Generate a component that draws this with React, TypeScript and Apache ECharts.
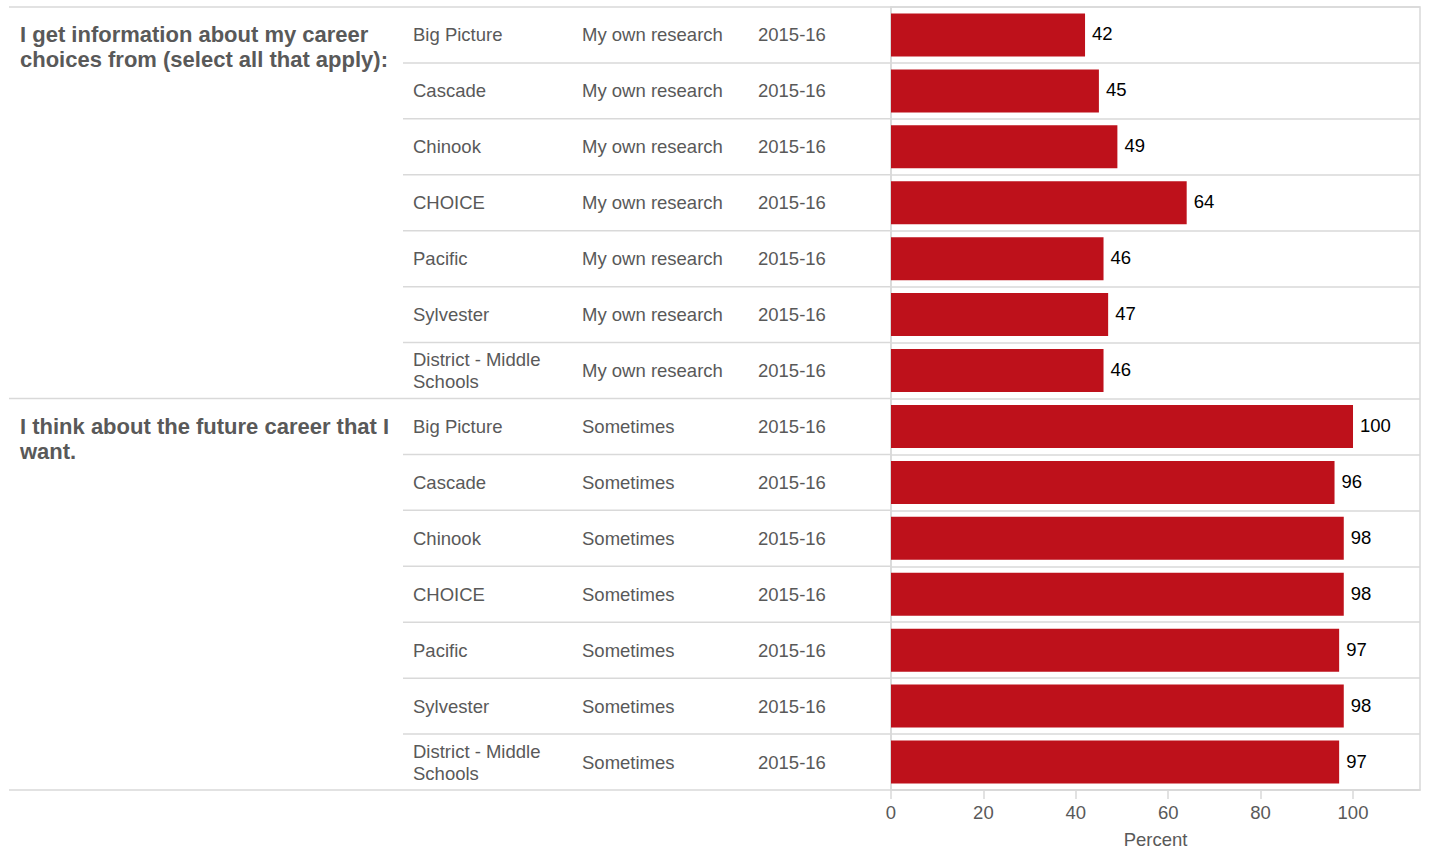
import React, { useEffect, useRef } from "react";
import * as echarts from "echarts";

const questions = [
  "I get information about my career\nchoices from (select all that apply):",
  "I think about the future career that I\nwant.",
];
const schools = ["Big Picture", "Cascade", "Chinook", "CHOICE", "Pacific", "Sylvester", "District - Middle Schools"];
const responses = ["My own research", "Sometimes"];
const year = "2015-16";
const researchValues = [42, 45, 49, 64, 46, 47, 46];
const sometimesValues = [100, 96, 98, 98, 97, 98, 97];
const xTicks = [0, 20, 40, 60, 80, 100];

type Row = { q: number; school: string; response: string; year: string; value: number; first: boolean };
const rows: Row[] = [];
[researchValues, sometimesValues].forEach((vals, qi) => {
  vals.forEach((v, i) => {
    rows.push({ q: qi, school: schools[i], response: responses[qi], year, value: v, first: i === 0 });
  });
});

const FONT = "'Liberation Sans', Arial, sans-serif";
const GRAY = "#595959";
const LINE = "#d9d9d9";

export default function App() {
  const ref = useRef<HTMLDivElement>(null);
  useEffect(() => {
    const chart = echarts.init(ref.current!, undefined, { renderer: "svg" });
    const cats = rows.map((_, i) => String(i));
    const gridTop = 7;
    const gridBottomY = 790;
    const gridLeft = 891;
    const gridRight = 1420;
    const rowH = (gridBottomY - gridTop) / rows.length;

    const mkY = (margin: number, fmt: (i: number) => string, extra: any = {}) => ({
      type: "category",
      data: cats,
      inverse: true,
      gridIndex: 0,
      position: "left",
      axisLine: { show: false },
      axisTick: { show: false },
      splitLine: { show: false },
      axisLabel: {
        interval: 0,
        align: "left",
        margin,
        color: GRAY,
        fontFamily: FONT,
        fontSize: 18.5,
        lineHeight: 22,
        formatter: (_v: string, idx: number) => fmt(idx),
        ...extra,
      },
    });

    const graphics: any[] = [];
    for (let k = 0; k <= rows.length; k++) {
      const y = gridTop + k * rowH;
      const isGroup = k === 0 || k === rows.length || rows[k]?.first;
      graphics.push({
        type: "line",
        shape: { x1: isGroup ? 9 : 403, y1: y, x2: gridLeft, y2: y },
        style: { stroke: LINE, lineWidth: 1.5 },
        silent: true,
      });
    }

    chart.setOption({
      animation: false,
      grid: {
        left: gridLeft,
        right: 1429 - gridRight,
        top: gridTop,
        bottom: 852 - gridBottomY,
        outerBoundsMode: "none",
        containLabel: false,
        show: true,
        borderColor: LINE,
        borderWidth: 1.5,
      },
      xAxis: {
        type: "value",
        min: 0,
        max: 114.5,
        interval: 20,
        name: "Percent",
        nameLocation: "middle",
        nameGap: 40,
        nameTextStyle: { color: GRAY, fontFamily: FONT, fontSize: 18.5 },
        axisLine: { show: true, lineStyle: { color: LINE, width: 1.5 } },
        axisTick: { show: true, length: 9, lineStyle: { color: LINE, width: 1.5 }, customValues: xTicks },
        axisLabel: { color: GRAY, fontFamily: FONT, fontSize: 18.5, margin: 13, customValues: xTicks },
        splitLine: { show: false },
      },
      yAxis: [
        {
          type: "category",
          data: cats,
          inverse: true,
          position: "left",
          axisLine: { show: true, lineStyle: { color: LINE, width: 1.5 } },
          axisTick: { show: false },
          axisLabel: { show: false },
          splitLine: { show: true, lineStyle: { color: LINE, width: 1.5 } },
        },
        mkY(478, (i) => rows[i].school.replace("District - Middle ", "District - Middle\n")),
        mkY(309, (i) => rows[i].response),
        mkY(133, (i) => rows[i].year),
        mkY(871, (i) => (rows[i].first ? "\n" + questions[rows[i].q] : ""), {
          fontWeight: "bold",
          fontSize: 22,
          lineHeight: 25,
        }),
      ],
      series: [
        {
          type: "bar",
          yAxisIndex: 0,
          data: rows.map((r) => r.value),
          barWidth: 43,
          itemStyle: { color: "#BE111B" },
          label: {
            show: true,
            position: "right",
            distance: 7,
            offset: [0, -1],
            color: "#000",
            fontFamily: FONT,
            fontSize: 18.5,
          },
        },
      ],
      graphic: graphics,
    });
    return () => chart.dispose();
  }, []);
  return <div ref={ref} style={{ width: 1429, height: 852, position: "absolute", left: 0, top: 0 }} />;
}
